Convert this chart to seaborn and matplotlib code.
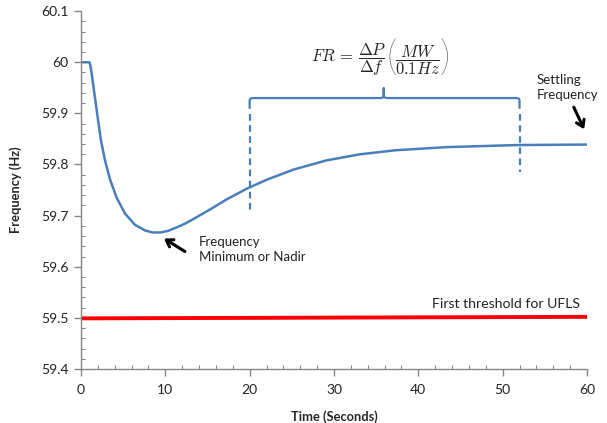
import numpy as np
import pandas as pd
import matplotlib
matplotlib.use("Agg")
import matplotlib.pyplot as plt
import seaborn as sns

# ---- data ----
time_s = [0, 0.99, 1.1, 1.27, 1.54, 2.0, 2.37, 2.85, 3.44, 4.23, 5.22, 6.4, 7.59, 8.5,
          9.4, 10.3, 11.35, 12.3, 13.3, 15.3, 17.3, 19.7, 22.0, 25.2, 29.1, 33.1, 37.4,
          43.4, 51.7, 60.0]
freq_hz = [60.0, 60.0, 59.995, 59.978, 59.945, 59.890, 59.847, 59.808, 59.771, 59.735,
           59.704, 59.682, 59.671, 59.667, 59.667, 59.670, 59.677, 59.684, 59.693, 59.712,
           59.732, 59.753, 59.770, 59.790, 59.808, 59.820, 59.828, 59.834, 59.838, 59.839]
ufls_time = [0, 60]
ufls_freq = [59.499, 59.502]

window_start, window_end = 20, 52
bracket_level, bracket_peak, bracket_end = 59.930, 59.949, 59.909
dash_left = [59.898, 59.705]
dash_right = [59.898, 59.785]

x_ticks = [0, 10, 20, 30, 40, 50, 60]
y_ticks = [59.4, 59.5, 59.6, 59.7, 59.8, 59.9, 60.0, 60.1]
y_tick_labels = ["59.4", "59.5", "59.6", "59.7", "59.8", "59.9", "60", "60.1"]

sns.set_style("white")
plt.rcParams["font.family"] = ["Lato", "DejaVu Sans"]
plt.rcParams["mathtext.fontset"] = "cm"

fig = plt.figure(figsize=(6.07, 4.23), dpi=100)
ax = fig.add_axes([0.1334, 0.1277, 0.8336, 0.846])

blue = "#4a7ebb"
df = pd.DataFrame({"t": time_s, "f": freq_hz})
sns.lineplot(data=df, x="t", y="f", ax=ax, color=blue, linewidth=1.8)
df2 = pd.DataFrame({"t": ufls_time, "f": ufls_freq})
sns.lineplot(data=df2, x="t", y="f", ax=ax, color="#ff0000", linewidth=2.8)

# dashed verticals
ax.plot([window_start, window_start], dash_left, color=blue, lw=1.6, ls=(0, (3, 2)))
ax.plot([window_end, window_end], dash_right, color=blue, lw=1.6, ls=(0, (3, 2)))

# curly bracket
mid = (window_start + window_end) / 2 - 0.1
r = 0.35
dy = 0.004
bx = [window_start, window_start, window_start + r * 0.3, window_start + r,
      mid - r, mid - r * 0.3, mid, mid, mid, mid + r * 0.3, mid + r,
      window_end - r, window_end - r * 0.3, window_end, window_end]
by = [bracket_end, bracket_level - dy, bracket_level - dy * 0.25, bracket_level,
      bracket_level, bracket_level + dy * 0.25, bracket_level + dy, bracket_peak, bracket_level + dy,
      bracket_level + dy * 0.25, bracket_level,
      bracket_level, bracket_level - dy * 0.25, bracket_level - dy, bracket_end]
ax.plot(bx, by, color=blue, lw=1.6, solid_capstyle="butt")

ax.set_xlim(0, 60)
ax.set_ylim(59.4, 60.1)
ax.set_xticks(x_ticks)
ax.set_yticks(y_ticks)
ax.set_yticklabels(y_tick_labels)
ax.set_xticks(np.arange(0, 60.1, 2), minor=True)
ax.set_yticks(np.arange(59.4, 60.101, 0.02), minor=True)

gray = "#868686"
for s in ["top", "right"]:
    ax.spines[s].set_visible(False)
for s in ["left", "bottom"]:
    ax.spines[s].set_color(gray)
    ax.spines[s].set_linewidth(1.0)
ax.tick_params(which="major", direction="out", length=5, color=gray, width=1.0,
               labelsize=10, labelcolor="#222222", pad=4, bottom=True, left=True)
ax.tick_params(which="minor", direction="in", length=3, color=gray, width=0.8,
               bottom=True, left=True)
ax.tick_params(axis="x", which="major", pad=6)

ax.set_xlabel("Time (Seconds)", fontsize=9.3, fontweight="bold", labelpad=10)
ax.set_ylabel("Frequency (Hz)", fontsize=9.3, fontweight="bold", labelpad=14)

# annotations
arrow_kw = dict(arrowstyle="->,head_length=0.45,head_width=0.3", color="black", lw=2.2)
ax.text(14.0, 59.634, "Frequency\nMinimum or Nadir", fontsize=9.5, ha="left", va="center",
        linespacing=1.35, color="#222222")
ax.annotate("", xy=(9.57, 59.658), xytext=(12.6, 59.627), arrowprops=arrow_kw)

ax.text(54.0, 59.951, "Settling\nFrequency", fontsize=9.5, ha="left", va="center",
        linespacing=1.35, color="#222222")
ax.annotate("", xy=(59.8, 59.864), xytext=(58.3, 59.917), arrowprops=arrow_kw)

ax.text(50.4, 59.528, "First threshold for UFLS", fontsize=10.2, ha="center", va="center",
        color="#222222")

# formula, composed from pieces so the parentheses span the fraction
fy = 60.004
ax.text(27.3, fy, r"$FR\,=\,\dfrac{\Delta P}{\Delta f}$", fontsize=12, ha="left", va="center")
ax.text(36.85, fy + 0.003, "(", fontsize=30, ha="center", va="center",
        family="Lato", fontweight="light")
ax.text(39.95, fy, r"$\dfrac{MW}{0.1Hz}$", fontsize=12, ha="center", va="center")
ax.text(43.1, fy + 0.003, ")", fontsize=30, ha="center", va="center",
        family="Lato", fontweight="light")

fig.savefig("out.png", dpi=100)
